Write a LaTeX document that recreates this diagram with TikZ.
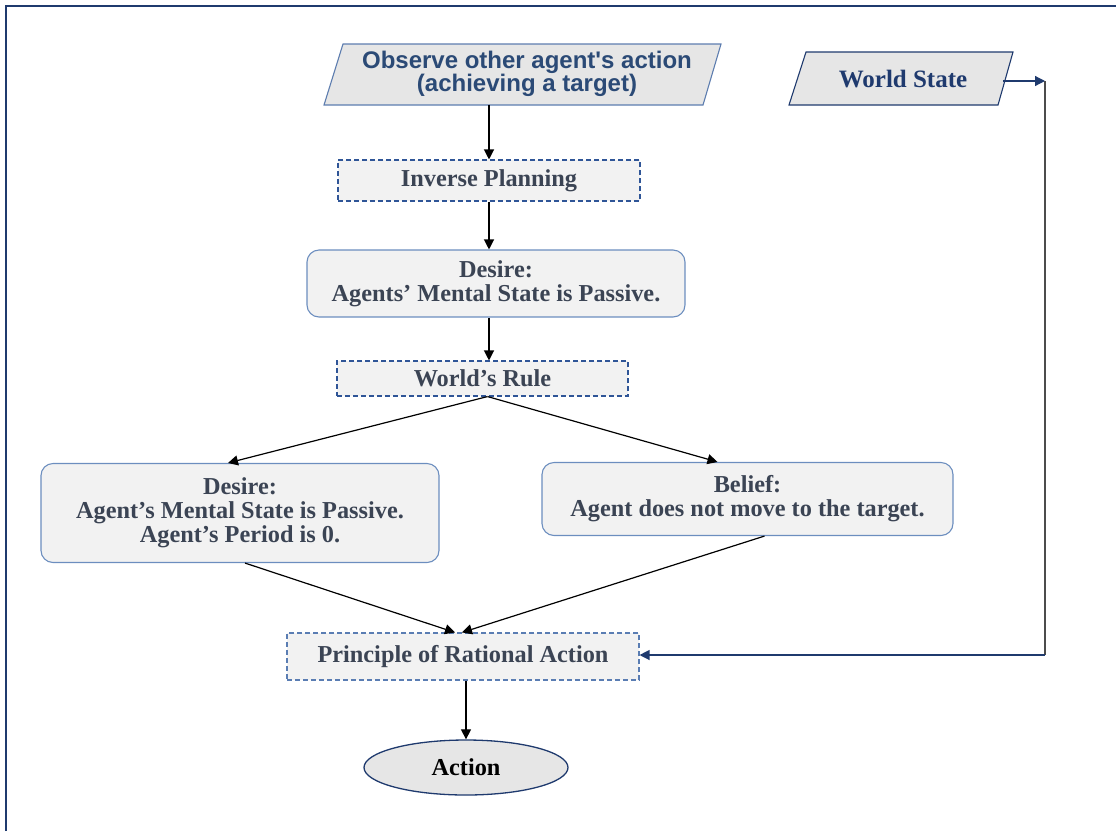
\documentclass[tikz,border=0pt]{standalone}
\usepackage{fontspec}
\setmainfont{Liberation Serif}
\newfontfamily\arialfont{Liberation Sans}
\usetikzlibrary{arrows.meta,shapes.geometric,calc}
\definecolor{navy}{HTML}{1F3A6E}
\definecolor{boxfill}{HTML}{F2F2F2}
\definecolor{parafill}{HTML}{E6E6E6}
\definecolor{dashblue}{HTML}{2F5597}
\definecolor{softblue}{HTML}{6C8EBF}
\definecolor{slate}{HTML}{3B4454}
\definecolor{obstext}{HTML}{2B4A76}
\begin{document}
\begin{tikzpicture}[x=1pt,y=-1pt,
  txt/.style={font=\fontsize{24.3}{24}\selectfont\bfseries, text=slate, align=center},
  dashbox/.style={txt, rectangle, draw=dashblue, fill=boxfill, line width=1.1pt,
    dash pattern=on 5pt off 3pt, inner sep=0pt},
  roundbox/.style={txt, rectangle, rounded corners=12pt, draw=softblue, fill=boxfill,
    line width=1.1pt, inner sep=0pt},
  arr/.style={line width=1.2pt, -{Triangle[width=10pt,length=10pt]}},
  navyarr/.style={navy, line width=1.2pt, -{Triangle[width=10pt,length=10pt]}},
  para/.style={fill=parafill, line width=1.1pt}]
\useasboundingbox (0,0) rectangle (1116,831);
% outer frame
\draw[navy, line width=2pt] (6,831) -- (6,6) -- (1116,6);

% input parallelograms
\draw[para, draw=softblue!80!navy] (343,44) -- (721,44) -- (703,105) -- (324,105) -- cycle;
\node[inner sep=0pt, minimum width=360pt, minimum height=61pt, align=center,
  font=\arialfont\fontsize{24}{23}\selectfont\bfseries, text=obstext] (obs) at (527,74)
  {Observe other agent's action\\(achieving a target)};
\draw[para, draw=navy] (806,52) -- (1013,52) -- (998,105) -- (789,105) -- cycle;
\node[inner sep=0pt, minimum width=200pt, minimum height=53pt,
  font=\fontsize{25}{25}\selectfont\bfseries, text=navy] (ws) at (903,79) {World State};

% process boxes
\node[dashbox, minimum width=302pt, minimum height=41pt] (inv) at (489,180.5) {Inverse Planning};
\node[roundbox, minimum width=378pt, minimum height=67pt] (des) at (496,283.5)
  {Desire:\\Agents' Mental State is Passive.};
\node[dashbox, minimum width=291pt, minimum height=35pt] (rule) at (482.5,378.5) {World's Rule};
\node[roundbox, minimum width=398pt, minimum height=99pt] (left) at (240,513)
  {Desire:\\Agent's Mental State is Passive.\\Agent's Period is 0.};
\node[roundbox, minimum width=411pt, minimum height=73pt] (right) at (747.5,499)
  {Belief:\\Agent does not move to the target.};
\node[dashbox, draw=softblue!70!dashblue, minimum width=352pt, minimum height=47pt] (pra) at (463,656.5)
  {Principle of Rational Action};
\node[ellipse, draw=navy, fill=parafill, line width=1.3pt, minimum width=204pt, minimum height=55pt,
  inner sep=0pt, font=\fontsize{24.3}{24}\selectfont\bfseries, text=black] (act) at (466,767.5) {Action};

% main flow
\draw[arr] (inv.north |- obs.south) -- (inv.north);
\draw[arr] (inv.south) -- (inv.south |- des.north);
\draw[arr] (des.south -| inv.south) -- (rule.north -| inv.south);
\draw[arr] ([xshift=5pt]rule.south) -- ([xshift=-12pt]left.north);
\draw[arr] ([xshift=5pt]rule.south) -- ([xshift=-30pt]right.north);
\draw[arr] ([xshift=5pt]left.south) -- ([xshift=-8pt]pra.north);
\draw[arr] ([xshift=17pt]right.south) -- ([xshift=-1pt]pra.north);
\draw[arr] (pra.south -| act.north) -- (act.north);

% world state feedback
\coordinate (wsturn) at (1045,81);
\coordinate (wsdown) at (1045,655);
\draw[navyarr] (ws.east |- wsturn) -- (wsturn);
\draw[black!70, line width=1.2pt] (wsturn) -- (wsdown);
\draw[navyarr] (wsdown) -- (pra.east |- wsdown);
\end{tikzpicture}
\end{document}
